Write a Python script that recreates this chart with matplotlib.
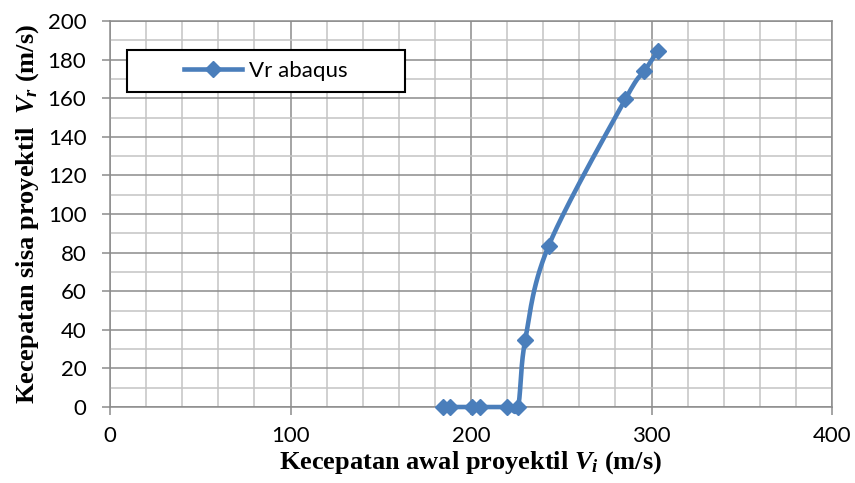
import numpy as np
import matplotlib.pyplot as plt
from matplotlib.patches import Rectangle
from matplotlib.ticker import MultipleLocator

plt.rcParams['mathtext.fontset'] = 'custom'
plt.rcParams['mathtext.rm'] = 'Liberation Serif:bold'
plt.rcParams['mathtext.it'] = 'Liberation Serif:bold:italic'

# data
vi = [184.5, 188.5, 200.5, 205, 220, 226, 230, 243, 285.5, 296, 303.5]
vr = [0, 0, 0, 0, 0, 0, 34.5, 83.5, 159.5, 174, 184.5]

x_ticks = [0, 100, 200, 300, 400]
y_ticks = [0, 20, 40, 60, 80, 100, 120, 140, 160, 180, 200]

blue = '#4a7ebb'
tick_font = 'Lato'

fig = plt.figure(figsize=(8.55, 4.83), dpi=100)
ax = fig.add_axes([110/855, 1-407/483, 722/855, 386/483])


# Excel style smoothed line (catmull-rom in screen scale)
def smooth(x, y, xr=400., yr=200., w=722., h=386., n=30):
    px = np.asarray(x) / xr * w
    py = np.asarray(y) / yr * h
    P = np.column_stack([px, py])
    P = np.vstack([P[0], P, P[-1]])
    out = []
    for i in range(1, len(P) - 2):
        p0, p1, p2, p3 = P[i-1], P[i], P[i+1], P[i+2]
        c1 = p1 + (p2 - p0) / 6
        c2 = p2 - (p3 - p1) / 6
        t = np.linspace(0, 1, n)[:, None]
        b = (1-t)**3*p1 + 3*(1-t)**2*t*c1 + 3*(1-t)*t**2*c2 + t**3*p2
        out.append(b)
    out = np.vstack(out)
    return out[:, 0] / w * xr, out[:, 1] / h * yr

sx, sy = smooth(vi, vr)
ax.plot(sx, sy, color=blue, lw=3.3, solid_capstyle='round', zorder=3,
        clip_on=False)
ax.plot(vi, vr, ls='none', marker='D', ms=8, color=blue, zorder=3,
        clip_on=False)

ax.set_xlim(0, 400)
ax.set_ylim(0, 200)
ax.set_xticks(x_ticks)
ax.set_yticks(y_ticks)
ax.xaxis.set_minor_locator(MultipleLocator(20))
ax.yaxis.set_minor_locator(MultipleLocator(10))
ax.grid(which='major', color='#8c8c8c', lw=1.1)
ax.grid(which='minor', color='#c4c4c4', lw=1.1)
ax.set_axisbelow(True)
for s in ax.spines.values():
    s.set_color('#8c8c8c')
    s.set_linewidth(1.1)
ax.tick_params(which='major', length=6, width=1.1, color='#8c8c8c',
               labelsize=16, direction='out')
ax.tick_params(which='minor', length=0)
ax.tick_params(axis='x', pad=8)
ax.tick_params(axis='y', pad=11)
for lab in ax.get_xticklabels() + ax.get_yticklabels():
    lab.set_fontfamily(tick_font)

ax.set_xlabel(r'Kecepatan awal proyektil $V_i$ (m/s)', fontsize=19,
              fontweight='bold', family='Liberation Serif', labelpad=2)
ax.set_ylabel(r'Kecepatan sisa proyektil  $V_r$ (m/s)', fontsize=19,
              fontweight='bold', family='Liberation Serif', labelpad=5)

# legend box
ax.add_patch(Rectangle((0.0235, 0.816), 0.385, 0.109, transform=ax.transAxes,
                       facecolor='white', edgecolor='black', lw=1.5, zorder=4))
ax.plot([], [], color=blue, lw=3.3, marker='D', ms=8, label='Vr abaqus')
leg = ax.legend(loc='center', bbox_to_anchor=(0.216, 0.870), frameon=False,
                handlelength=2.6, handletextpad=0.3,
                prop={'family': tick_font, 'size': 16})
leg.set_zorder(5)

fig.savefig('out.png', dpi=100)
